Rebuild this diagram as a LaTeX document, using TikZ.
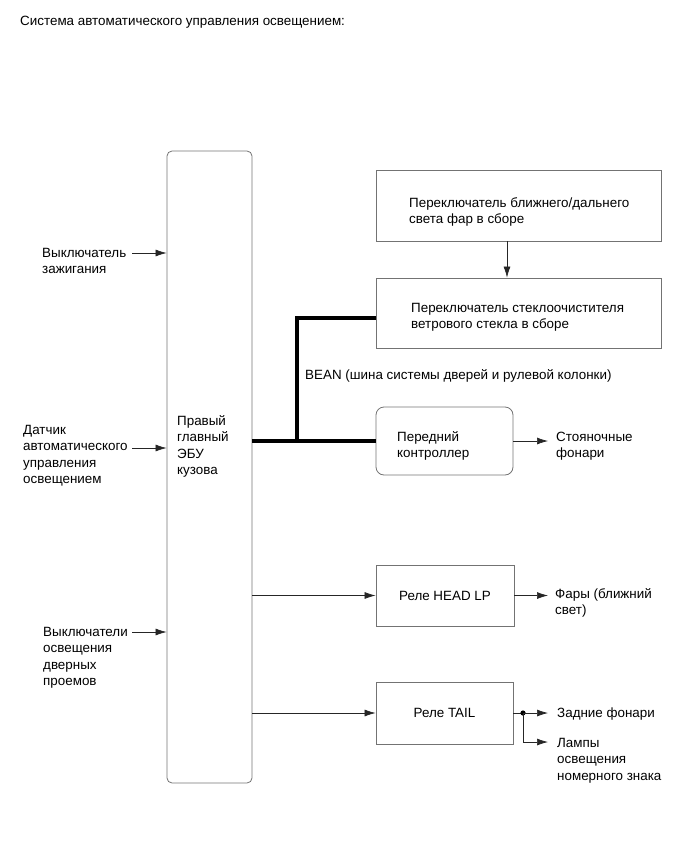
\documentclass[tikz,border=0pt]{standalone}
\usepackage{fontspec}
\setmainfont{Liberation Sans}
\usetikzlibrary{arrows.meta}
\begin{document}
\begin{tikzpicture}[x=1pt,y=-1pt,
  txt/.style={font=\fontsize{13.4}{16.5}\selectfont, align=left, inner sep=0pt, anchor=base west},
  box/.style={draw=black!55, line width=0.8pt, inner sep=0pt, font=\fontsize{13.4}{16.5}\selectfont},
  arr/.style={draw=black!85, line width=0.7pt, -{Latex[length=11pt,width=7pt]}},
  bus/.style={line width=4.6pt, line join=miter}]
\useasboundingbox (0,0) rectangle (692,856);
\node[txt] (title) at (20,26) {Система автоматического управления освещением:};
% ECU
\node[box, minimum width=85, minimum height=632, rounded corners=5pt] (ecu) at (209.5,467) {};
\node[txt] (ecut) at (177,474.5) {Правый\\главный\\ЭБУ\\кузова};
% left inputs
\node[txt] (ign) at (42,273.5) {Выключатель\\зажигания};
\node[txt] (sens) at (23,483.5) {Датчик\\автоматического\\управления\\освещением};
\node[txt] (door) at (43,685.5) {Выключатели\\освещения\\дверных\\проемов};
\coordinate (ignS) at (132,253);
\coordinate (sensS) at (132,448);
\coordinate (doorS) at (132,632);
\draw[arr] (ignS) -- (ignS -| ecu.west);
\draw[arr] (sensS) -- (sensS -| ecu.west);
\draw[arr] (doorS) -- (doorS -| ecu.west);
% right boxes
\node[box, minimum width=285, minimum height=71] (hsw) at (518.5,205.5) {};
\node[txt] (hswt) at (409,223.5) {Переключатель ближнего/дальнего\\света фар в сборе};
\node[box, minimum width=285, minimum height=70] (wsw) at (518.5,313) {};
\node[txt] (wswt) at (411,328.5) {Переключатель стеклоочистителя\\ветрового стекла в сборе};
\draw[arr] ([xshift=-11.5pt]hsw.south) -- ([xshift=-11.5pt]wsw.north);
\node[box, minimum width=137, minimum height=68, rounded corners=8pt] (fc) at (444.5,441) {};
\node[txt] (fct) at (397,457.5) {Передний\\контроллер};
\node[box, minimum width=138, minimum height=61] (hl) at (445,595.5) {Реле HEAD LP};
\node[box, minimum width=137, minimum height=62] (tl) at (444.5,713) {Реле TAIL};
% BEAN bus
\coordinate (bj) at (297,441);
\draw[bus] (fc.west -| ecu.east) -- (fc.west);
\draw[bus] (bj) |- ([yshift=-5pt]wsw.west);
\node[txt] (bean) at (305,379) {BEAN (шина системы дверей и рулевой колонки)};
% ECU outputs
\draw[arr] (hl.west -| ecu.east) -- (hl.west);
\draw[arr] (tl.west -| ecu.east) -- (tl.west);
% outputs
\coordinate (fcE) at (548,441);
\coordinate (hlE) at (548,595.5);
\coordinate (tlE) at (548,713);
\coordinate (lpE) at (548,742);
\draw[arr] (fc.east) -- (fcE);
\draw[arr] (hl.east) -- (hlE);
\node[txt] (park) at (556,457.5) {Стояночные\\фонари};
\node[txt] (head) at (555,614.5) {Фары (ближний\\свет)};
\coordinate (dot) at (523,713);
\draw[black!85, line width=0.7pt] (tl.east) -- (dot);
\fill (dot) circle (2.6pt);
\draw[arr] (dot) -- (tlE);
\draw[arr] (dot) |- (lpE);
\node[txt] (rear) at (557,717) {Задние фонари};
\node[txt] (lamp) at (557,780) {Лампы\\освещения\\номерного знака};
\end{tikzpicture}
\end{document}
